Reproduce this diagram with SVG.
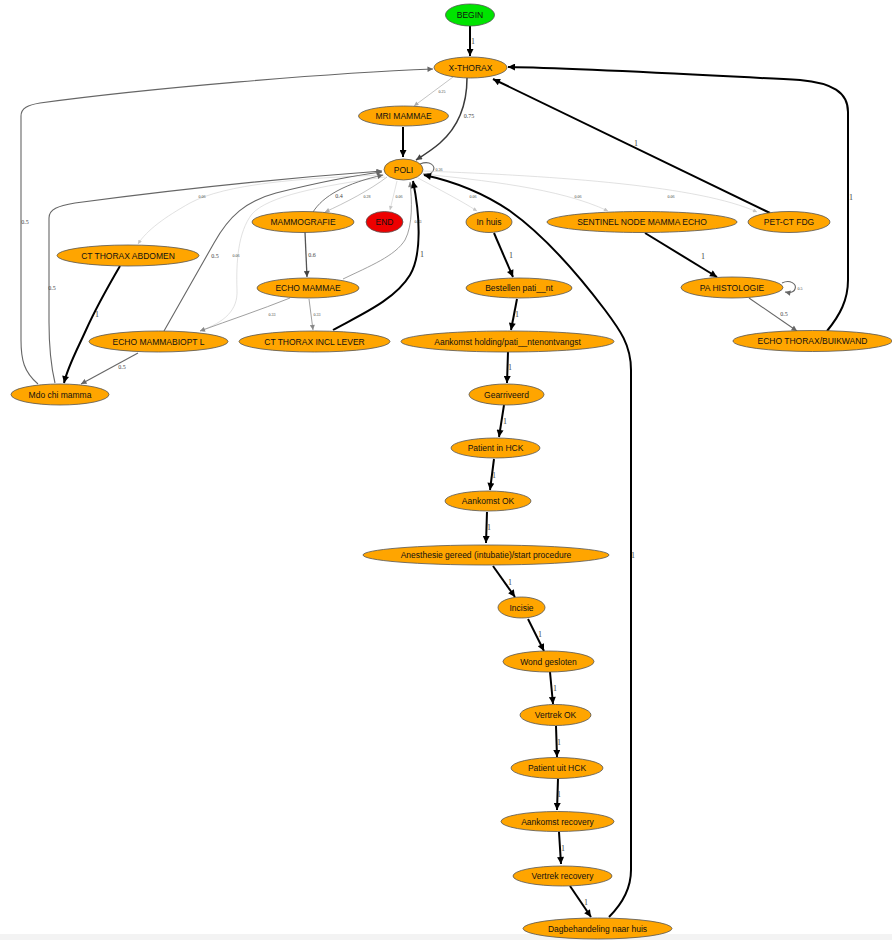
<svg xmlns="http://www.w3.org/2000/svg" width="892" height="940" viewBox="0 0 892 940">
<style>
  .n ellipse { fill: #ffa500; stroke: #555; stroke-width: 0.8; }
  .n text { font-family: "Liberation Sans", Arial, sans-serif; font-size: 8.5px; fill: #111; text-anchor: middle; }
  #BEGIN ellipse { fill: #00e400; }
  #END ellipse { fill: #ee0000; }
  .e path { fill: none; }
  .p1 { stroke: #000; stroke-width: 2; marker-end: url(#aK); }
  .p75 { stroke: #3a3a3a; stroke-width: 1.5; marker-end: url(#aD); }
  .p6 { stroke: #555; stroke-width: 1.3; marker-end: url(#aD); }
  .p5 { stroke: #666; stroke-width: 1.1; marker-end: url(#aG); }
  .p4 { stroke: #777; stroke-width: 1; marker-end: url(#aG); }
  .p33 { stroke: #888; stroke-width: 0.8; marker-end: url(#aM); }
  .p25 { stroke: #aaa; stroke-width: 0.7; marker-end: url(#aL); }
  .p06 { stroke: #ccc; stroke-width: 0.6; marker-end: url(#aF); }
  .l { font-family: "Liberation Serif", "Times New Roman", serif; fill: #444; text-anchor: middle; }
  .l1 { font-size: 8px; }
  .l5 { font-size: 6px; }
  .l06 { font-size: 4px; }
</style>
<defs>
  <marker id="aK" viewBox="0 0 10 10" refX="10" refY="5" markerUnits="userSpaceOnUse" markerWidth="9" markerHeight="7" orient="auto"><path d="M0,0 L10,5 L0,10 z" fill="#000"/></marker>
  <marker id="aD" viewBox="0 0 10 10" refX="10" refY="5" markerUnits="userSpaceOnUse" markerWidth="8" markerHeight="6" orient="auto"><path d="M0,0 L10,5 L0,10 z" fill="#444"/></marker>
  <marker id="aG" viewBox="0 0 10 10" refX="10" refY="5" markerUnits="userSpaceOnUse" markerWidth="7" markerHeight="5.5" orient="auto"><path d="M0,0 L10,5 L0,10 z" fill="#666"/></marker>
  <marker id="aM" viewBox="0 0 10 10" refX="10" refY="5" markerUnits="userSpaceOnUse" markerWidth="6.5" markerHeight="5" orient="auto"><path d="M0,0 L10,5 L0,10 z" fill="#888"/></marker>
  <marker id="aL" viewBox="0 0 10 10" refX="10" refY="5" markerUnits="userSpaceOnUse" markerWidth="6" markerHeight="4.5" orient="auto"><path d="M0,0 L10,5 L0,10 z" fill="#aaa"/></marker>
  <marker id="aF" viewBox="0 0 10 10" refX="10" refY="5" markerUnits="userSpaceOnUse" markerWidth="5.5" markerHeight="4" orient="auto"><path d="M0,0 L10,5 L0,10 z" fill="#c4c4c4"/></marker>
</defs>
<rect x="0" y="0" width="892" height="940" fill="#fff"/>
<rect x="0" y="934" width="892" height="6" fill="#f3f3f3"/>

<g id="edges" class="e">
  <!-- start -->
  <path class="p1" d="M470,26 L470,56"/>
  <text class="l l1" x="473" y="44">1</text>
  <!-- X-THORAX out -->
  <path class="p25" d="M453,77 L414,106"/>
  <text class="l l06" x="442" y="93">0.25</text>
  <path class="p75" d="M467,78 C467,108 457,128 440,143 C432,150 424,155 416,160"/>
  <text class="l l5" x="469" y="118">0.75</text>
  <!-- MRI -> POLI -->
  <path class="p1" d="M403,127 L403,157"/>
  <!-- POLI self loop -->
  <path class="p5" d="M420,164 C430,160 436,166 433,171 C431,174 427,175 423,174"/>
  <text class="l l06" x="439" y="171">0.36</text>
  <!-- POLI out -->
  <path class="p25" d="M387,177 C370,190 345,203 325,212"/>
  <text class="l l06" x="367" y="198">0.28</text>
  <path class="p06" d="M397,181 L390,210"/>
  <text class="l l06" x="399" y="198">0.06</text>
  <path class="p06" d="M418,178 C440,190 460,200 477,211"/>
  <text class="l l06" x="473" y="198">0.06</text>
  <path class="p06" d="M423,174 C480,180 560,188 608,211"/>
  <text class="l l06" x="578" y="198">0.06</text>
  <path class="p06" d="M423,171 C560,176 700,186 757,212"/>
  <text class="l l06" x="671" y="198">0.06</text>
  <path class="p06" d="M384,175 C300,178 225,184 190,203 C165,217 147,230 138,244"/>
  <text class="l l06" x="202" y="198">0.06</text>
  <path class="p06" d="M385,177 C320,186 268,196 252,214 C238,232 236,262 237,290 C238,310 225,322 200,331"/>
  <text class="l l06" x="236" y="257">0.06</text>
  <!-- left side returns -->
  <path class="p5" d="M164,331 L214,243 C229,216 246,201 276,193 C312,184 350,176 382,172"/>
  <text class="l l5" x="215" y="258">0.5</text>
  <path class="p5" d="M38,384 C24,372 21,360 21,340 L21,116 C21,108 28,105 40,103 C150,88 330,73 433,69"/>
  <text class="l l5" x="25" y="224">0.5</text>
  <path class="p5" d="M55,383 C50,362 49,342 49,322 L49,218 C49,209 58,206 75,203 C180,189 300,177 382,171"/>
  <text class="l l5" x="52" y="290">0.5</text>
  <path class="p1" d="M120,266 C106,290 95,310 86,330 C77,350 68,366 64,383"/>
  <text class="l l1" x="97" y="317">1</text>
  <path class="p5" d="M138,353 L81,384"/>
  <text class="l l5" x="122" y="369">0.5</text>
  <!-- MAMMOGRAFIE -->
  <path class="p4" d="M313,212 C318,204 326,197 337,191 C350,184 365,179 383,175"/>
  <text class="l l5" x="339" y="198">0.4</text>
  <path class="p6" d="M305,232 L307,277"/>
  <text class="l l5" x="312" y="257">0.6</text>
  <!-- ECHO MAMMAE -->
  <path class="p33" d="M343,279 C370,266 395,256 405,240 C413,225 412,200 410,182"/>
  <text class="l l06" x="418" y="223">0.33</text>
  <path class="p33" d="M290,298 C260,310 230,320 200,331"/>
  <text class="l l06" x="272" y="316">0.33</text>
  <path class="p33" d="M309,299 L313,330"/>
  <text class="l l06" x="317" y="316">0.33</text>
  <!-- CT THORAX INCL LEVER -> POLI -->
  <path class="p1" d="M333,330 C360,315 395,300 410,275 C422,255 420,215 413,181"/>
  <text class="l l1" x="422" y="257">1</text>
  <!-- day treatment chain -->
  <path class="p1" d="M494,233 L513,277"/>
  <text class="l l1" x="511" y="258">1</text>
  <path class="p1" d="M517,299 L511,330"/>
  <text class="l l1" x="517" y="317">1</text>
  <path class="p1" d="M508,352 L507,383"/>
  <text class="l l1" x="510" y="370">1</text>
  <path class="p1" d="M504,405 L499,437"/>
  <text class="l l1" x="505" y="424">1</text>
  <path class="p1" d="M494,459 L490,490"/>
  <text class="l l1" x="494" y="478">1</text>
  <path class="p1" d="M487,512 L486,543"/>
  <text class="l l1" x="489" y="530">1</text>
  <path class="p1" d="M493,566 L515,597"/>
  <text class="l l1" x="510" y="585">1</text>
  <path class="p1" d="M528,619 L544,651"/>
  <text class="l l1" x="540" y="637">1</text>
  <path class="p1" d="M550,672 L553,704"/>
  <text class="l l1" x="555" y="691">1</text>
  <path class="p1" d="M556,726 L557,757"/>
  <text class="l l1" x="559" y="745">1</text>
  <path class="p1" d="M558,779 L557,810"/>
  <text class="l l1" x="559" y="797">1</text>
  <path class="p1" d="M559,832 L561,864"/>
  <text class="l l1" x="563" y="851">1</text>
  <path class="p1" d="M570,886 L591,917"/>
  <text class="l l1" x="586" y="905">1</text>
  <path class="p1" d="M609,917 C621,905 631,890 631,870 L631,370 C631,345 620,330 605,310 C580,277 545,236 510,211 C482,192 452,181 424,175"/>
  <text class="l l1" x="633" y="558">1</text>
  <!-- sentinel branch -->
  <path class="p1" d="M645,233 L717,277"/>
  <text class="l l1" x="703" y="259">1</text>
  <path class="p5" d="M782,283 C790,279 797,284 795,289 C794,292 790,293 785,292"/>
  <text class="l l06" x="800" y="290">0.5</text>
  <path class="p5" d="M749,298 L797,331"/>
  <text class="l l5" x="784" y="316">0.5</text>
  <path class="p1" d="M827,331 C840,315 848,300 848,280 L848,112 C848,92 832,83 800,80 C700,75 580,68 508,67"/>
  <text class="l l1" x="851" y="200">1</text>
  <path class="p1" d="M770,213 L493,79"/>
  <text class="l l1" x="636" y="146">1</text>
</g>

<g id="BEGIN" class="n"><ellipse cx="470" cy="15" rx="24.5" ry="11"/><text x="470" y="18">BEGIN</text></g>
<g id="X-THORAX" class="n"><ellipse cx="470.5" cy="67.5" rx="36.5" ry="10.5"/><text x="470.5" y="70.5">X-THORAX</text></g>
<g id="MRI_MAMMAE" class="n"><ellipse cx="403.5" cy="116" rx="45" ry="10"/><text x="403.5" y="119">MRI MAMMAE</text></g>
<g id="POLI" class="n"><ellipse cx="403.5" cy="169.5" rx="19.5" ry="10.5"/><text x="403.5" y="172.5">POLI</text></g>
<g id="MAMMOGRAFIE" class="n"><ellipse cx="303" cy="222" rx="51" ry="10.5"/><text x="303" y="225">MAMMOGRAFIE</text></g>
<g id="END" class="n"><ellipse cx="384.5" cy="222" rx="18.5" ry="10.5"/><text x="384.5" y="225">END</text></g>
<g id="In_huis" class="n"><ellipse cx="489" cy="222" rx="23" ry="10.5"/><text x="489" y="225">In huis</text></g>
<g id="SENTINEL_NODE_MAMMA_ECHO" class="n"><ellipse cx="642" cy="222" rx="95" ry="10.5"/><text x="642" y="225">SENTINEL NODE MAMMA ECHO</text></g>
<g id="PET-CT_FDG" class="n"><ellipse cx="789" cy="222" rx="41" ry="10.5"/><text x="789" y="225">PET-CT FDG</text></g>
<g id="CT_THORAX_ABDOMEN" class="n"><ellipse cx="128" cy="255.5" rx="71" ry="10.5"/><text x="128" y="258.5">CT THORAX ABDOMEN</text></g>
<g id="ECHO_MAMMAE" class="n"><ellipse cx="308" cy="288" rx="51" ry="10"/><text x="308" y="291">ECHO MAMMAE</text></g>
<g id="Bestellen_patient" class="n"><ellipse cx="519" cy="288" rx="53" ry="10"/><text x="519" y="291">Bestellen pati__nt</text></g>
<g id="PA_HISTOLOGIE" class="n"><ellipse cx="732" cy="287.5" rx="51" ry="10.5"/><text x="732" y="290.5">PA HISTOLOGIE</text></g>
<g id="ECHO_MAMMABIOPT_L" class="n"><ellipse cx="158.5" cy="341.5" rx="69.5" ry="10.5"/><text x="158.5" y="344.5">ECHO MAMMABIOPT L</text></g>
<g id="CT_THORAX_INCL_LEVER" class="n"><ellipse cx="314.5" cy="341.5" rx="75.5" ry="10.5"/><text x="314.5" y="344.5">CT THORAX INCL LEVER</text></g>
<g id="Aankomst_holding" class="n"><ellipse cx="507.5" cy="341.5" rx="106.5" ry="10.5"/><text x="507.5" y="344.5">Aankomst holding/pati__ntenontvangst</text></g>
<g id="ECHO_THORAX_BUIKWAND" class="n"><ellipse cx="812.5" cy="341" rx="79.5" ry="10.5"/><text x="812.5" y="344">ECHO THORAX/BUIKWAND</text></g>
<g id="Mdo_chi_mamma" class="n"><ellipse cx="60" cy="394.5" rx="49" ry="10.5"/><text x="60" y="397.5">Mdo chi mamma</text></g>
<g id="Gearriveerd" class="n"><ellipse cx="506.5" cy="394.5" rx="37.5" ry="10.5"/><text x="506.5" y="397.5">Gearriveerd</text></g>
<g id="Patient_in_HCK" class="n"><ellipse cx="495.5" cy="448" rx="44.5" ry="10"/><text x="495.5" y="451">Patient in HCK</text></g>
<g id="Aankomst_OK" class="n"><ellipse cx="488" cy="501" rx="43" ry="10"/><text x="488" y="504">Aankomst OK</text></g>
<g id="Anesthesie" class="n"><ellipse cx="486" cy="555" rx="123" ry="10"/><text x="486" y="558">Anesthesie gereed (intubatie)/start procedure</text></g>
<g id="Incisie" class="n"><ellipse cx="521.5" cy="607.5" rx="23.5" ry="10.5"/><text x="521.5" y="610.5">Incisie</text></g>
<g id="Wond_gesloten" class="n"><ellipse cx="548.5" cy="661.5" rx="45.5" ry="10.5"/><text x="548.5" y="664.5">Wond gesloten</text></g>
<g id="Vertrek_OK" class="n"><ellipse cx="555.5" cy="715" rx="35.5" ry="10.5"/><text x="555.5" y="718">Vertrek OK</text></g>
<g id="Patient_uit_HCK" class="n"><ellipse cx="557" cy="768" rx="46" ry="10.5"/><text x="557" y="771">Patient uit HCK</text></g>
<g id="Aankomst_recovery" class="n"><ellipse cx="557.5" cy="821.5" rx="56.5" ry="10"/><text x="557.5" y="824.5">Aankomst recovery</text></g>
<g id="Vertrek_recovery" class="n"><ellipse cx="562.5" cy="876" rx="49.5" ry="10"/><text x="562.5" y="879">Vertrek recovery</text></g>
<g id="Dagbehandeling" class="n"><ellipse cx="597.5" cy="928.5" rx="74.5" ry="10.5"/><text x="597.5" y="931.5">Dagbehandeling naar huis</text></g>
</svg>
